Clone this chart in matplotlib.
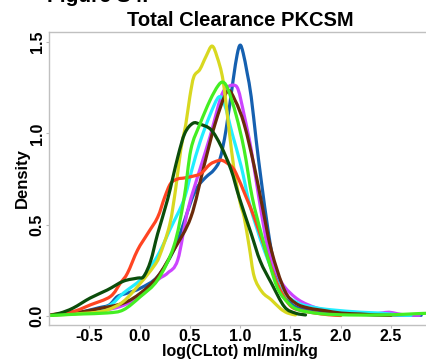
import matplotlib
matplotlib.use("Agg")
import matplotlib.pyplot as plt
from matplotlib.path import Path
from matplotlib.patches import PathPatch

plt.rcParams['font.family'] = ['Liberation Sans', 'DejaVu Sans']

title = "Total Clearance PKCSM"
xlabel = "log(CLtot) ml/min/kg"
ylabel = "Density"
xticks = [-0.5, 0.0, 0.5, 1.0, 1.5, 2.0, 2.5]
yticks = [0.0, 0.5, 1.0, 1.5]

blue_x = [-0.9, -0.6, -0.4, -0.3, -0.22, -0.12, 0.01, 0.18, 0.34, 0.44, 0.52, 0.58, 0.66, 0.74, 0.8, 0.86, 0.93, 0.97, 1.0, 1.03, 1.07, 1.11, 1.16, 1.21, 1.28, 1.35, 1.41, 1.5, 1.58, 1.75, 1.91, 2.2, 2.5, 2.8]
blue_y = [0.004, 0.02, 0.045, 0.06, 0.106, 0.125, 0.152, 0.215, 0.36, 0.51, 0.64, 0.71, 0.76, 0.80, 0.86, 1.02, 1.29, 1.43, 1.483, 1.44, 1.33, 1.2, 0.96, 0.74, 0.46, 0.24, 0.13, 0.07, 0.043, 0.025, 0.016, 0.008, 0.005, 0.003]

magenta_x = [-0.9, -0.5, -0.2, 0.01, 0.18, 0.28, 0.38, 0.48, 0.61, 0.7, 0.81, 0.87, 0.93, 0.98, 1.04, 1.11, 1.2, 1.28, 1.36, 1.44, 1.58, 1.75, 1.91, 2.1, 2.3, 2.4, 2.48, 2.56, 2.65, 2.78]
magenta_y = [0.003, 0.02, 0.05, 0.11, 0.197, 0.235, 0.307, 0.58, 0.82, 0.98, 1.2, 1.25, 1.264, 1.24, 1.1, 0.91, 0.6, 0.36, 0.24, 0.16, 0.088, 0.045, 0.025, 0.015, 0.01, 0.015, 0.02, 0.012, 0.005, 0.003]

cyan_x = [-0.9, -0.6, -0.32, -0.16, 0.01, 0.1, 0.2, 0.3, 0.44, 0.52, 0.6, 0.7, 0.79, 0.85, 0.92, 1.01, 1.1, 1.24, 1.41, 1.58, 1.75, 1.91, 2.2, 2.4, 2.58, 2.7]
cyan_y = [0.003, 0.015, 0.05, 0.125, 0.197, 0.26, 0.35, 0.47, 0.635, 0.8, 0.95, 1.1, 1.2, 1.15, 1.0, 0.82, 0.6, 0.36, 0.142, 0.07, 0.045, 0.033, 0.02, 0.015, 0.005, 0.003]

brown_x = [-0.9, -0.6, -0.4, -0.16, 0.01, 0.18, 0.34, 0.51, 0.64, 0.75, 0.87, 0.95, 1.04, 1.14, 1.22, 1.31, 1.44, 1.55, 1.68, 1.85, 2.01, 2.2, 2.34, 2.5]
brown_y = [0.003, 0.02, 0.04, 0.07, 0.125, 0.215, 0.36, 0.54, 0.82, 1.05, 1.228, 1.18, 1.05, 0.82, 0.6, 0.36, 0.142, 0.07, 0.043, 0.028, 0.015, 0.01, 0.005, 0.003]

yellow_x = [-0.9, -0.49, -0.32, -0.16, 0.01, 0.14, 0.2, 0.3, 0.36, 0.41, 0.46, 0.5, 0.54, 0.6, 0.66, 0.72, 0.77, 0.83, 0.89, 0.94, 1.0, 1.04, 1.09, 1.14, 1.22, 1.31, 1.4, 1.47, 1.55]
yellow_y = [0.003, 0.016, 0.033, 0.079, 0.18, 0.27, 0.33, 0.5, 0.7, 0.91, 1.05, 1.2, 1.31, 1.35, 1.42, 1.478, 1.42, 1.29, 1.02, 0.8, 0.62, 0.54, 0.38, 0.215, 0.13, 0.088, 0.04, 0.016, 0.005]

orange_x = [-0.9, -0.66, -0.49, -0.29, -0.19, -0.12, -0.02, 0.08, 0.18, 0.25, 0.31, 0.38, 0.44, 0.53, 0.61, 0.7, 0.78, 0.83, 0.91, 0.96, 1.06, 1.14, 1.24, 1.34, 1.42, 1.51, 1.62, 1.74, 1.88, 2.0]
orange_y = [0.005, 0.024, 0.06, 0.106, 0.18, 0.234, 0.36, 0.45, 0.54, 0.65, 0.726, 0.75, 0.755, 0.765, 0.78, 0.83, 0.85, 0.85, 0.82, 0.78, 0.65, 0.54, 0.38, 0.215, 0.12, 0.05, 0.028, 0.016, 0.006, 0.002]

darkgreen_x = [-0.9, -0.79, -0.66, -0.49, -0.32, -0.16, -0.02, 0.04, 0.11, 0.18, 0.28, 0.38, 0.45, 0.53, 0.6, 0.71, 0.81, 0.91, 0.99, 1.11, 1.2, 1.31, 1.44, 1.55, 1.65]
darkgreen_y = [0.003, 0.015, 0.043, 0.098, 0.142, 0.19, 0.207, 0.215, 0.3, 0.45, 0.64, 0.87, 1.0, 1.055, 1.05, 1.02, 0.93, 0.80, 0.65, 0.45, 0.3, 0.18, 0.05, 0.015, 0.005]

green_x = [-0.9, -0.6, -0.32, -0.16, 0.01, 0.18, 0.34, 0.44, 0.51, 0.6, 0.7, 0.78, 0.83, 0.88, 0.96, 1.04, 1.12, 1.21, 1.3, 1.38, 1.48, 1.58, 1.8, 2.08, 2.4, 2.6, 2.75, 2.9]
green_y = [0.002, 0.01, 0.016, 0.033, 0.106, 0.197, 0.38, 0.635, 0.91, 1.05, 1.18, 1.26, 1.28, 1.24, 1.1, 0.91, 0.65, 0.45, 0.27, 0.142, 0.07, 0.033, 0.012, 0.005, 0.005, 0.008, 0.012, 0.015]

series = [
    (blue_x, blue_y, '#1560b0'),
    (magenta_x, magenta_y, '#cc44ff'),
    (cyan_x, cyan_y, '#22eeff'),
    (brown_x, brown_y, '#6b2a0a'),
    (yellow_x, yellow_y, '#d8d820'),
    (orange_x, orange_y, '#ff4422'),
    (darkgreen_x, darkgreen_y, '#0b4d0b'),
    (green_x, green_y, '#44ee22'),
]


def smooth_path(xs, ys, tension=0.5):
    """Catmull-Rom style cubic Bezier path through the read points (in data coords)."""
    n = len(xs)
    verts = [(xs[0], ys[0])]
    codes = [Path.MOVETO]
    for i in range(n - 1):
        x0, y0 = (xs[i - 1], ys[i - 1]) if i > 0 else (xs[i], ys[i])
        x1, y1 = xs[i], ys[i]
        x2, y2 = xs[i + 1], ys[i + 1]
        x3, y3 = (xs[i + 2], ys[i + 2]) if i + 2 < n else (x2, y2)
        k = tension / 3.0
        c1 = (x1 + (x2 - x0) * k, max(y1 + (y2 - y0) * k, 0.0))
        c2 = (x2 - (x3 - x1) * k, max(y2 - (y3 - y1) * k, 0.0))
        verts += [c1, c2, (x2, y2)]
        codes += [Path.CURVE4, Path.CURVE4, Path.CURVE4]
    return Path(verts, codes)


fig = plt.figure(figsize=(4.27, 3.61), dpi=100)
ax = fig.add_axes([49/427, 1 - 325/361, 1 - 49/427 + 0.01, (325 - 32)/361])

for xs, ys, c in series:
    ax.add_patch(PathPatch(smooth_path(xs, ys), facecolor='none', edgecolor=c,
                           lw=2.3, capstyle='round', joinstyle='round'))

ax.set_xlim(-0.9, 2.9)
ax.set_ylim(-0.05, 1.555)
ax.set_xticks(xticks)
ax.set_xticklabels([f"{t:.1f}" for t in xticks], fontsize=11.5, fontweight='bold')
ax.set_yticks(yticks)
ax.set_yticklabels([f"{t:.1f}" for t in yticks], fontsize=11.5, fontweight='bold',
                   rotation=90, va='center')
ax.tick_params(axis='both', length=2, width=0.8, color='#bbbbbb', pad=1)
for s in ax.spines.values():
    s.set_color('#c0c0c0')
    s.set_linewidth(1.0)

ax.set_title(title, fontsize=14.5, fontweight='bold', pad=4)
ax.set_ylabel(ylabel, fontsize=12, fontweight='bold', labelpad=0)
fig.text(240/427, 1 - 356/361, xlabel, fontsize=11.5, fontweight='bold',
         ha='center', va='baseline')

fig.text(47/427, 1 - 2/361, "Figure S4.", fontsize=15, fontweight='bold', va='baseline', ha='left')

fig.savefig("out.png", dpi=100)
